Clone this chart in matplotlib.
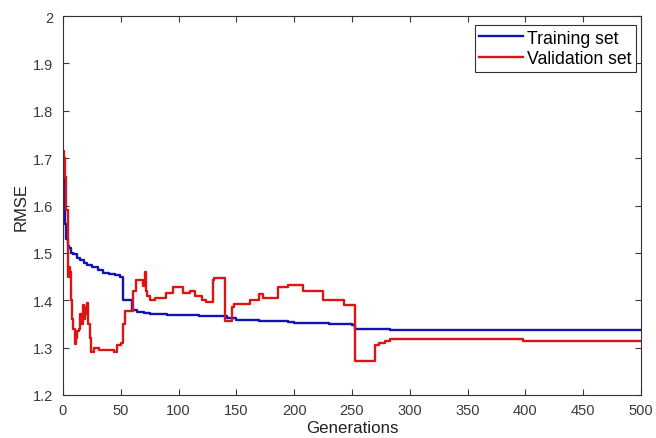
import matplotlib
matplotlib.use("Agg")
import matplotlib.pyplot as plt

# training-set RMSE (step breakpoints)
train_gen = [0, 1, 2, 3, 4, 5, 7, 9, 12, 15, 18, 21, 25, 30, 35, 40, 45, 49,
             52, 60, 64, 70, 75, 90, 118, 130, 142, 150, 170, 195, 200, 230,
             250, 253, 283, 500]
train_rmse = [1.67, 1.62, 1.56, 1.53, 1.515, 1.51, 1.50, 1.497, 1.49, 1.484,
              1.478, 1.474, 1.47, 1.463, 1.458, 1.455, 1.453, 1.45,
              1.40, 1.38, 1.376, 1.373, 1.371, 1.368, 1.367, 1.366, 1.362,
              1.359, 1.357, 1.354, 1.351, 1.349, 1.347, 1.34, 1.338, 1.338]

# validation-set RMSE (step breakpoints)
val_gen = [0, 1, 2, 3, 4, 4.5, 5, 6, 7, 8, 9, 10, 11, 12, 14, 15, 16, 17, 18,
           19, 20, 21, 22, 23, 24, 27, 31, 44, 47, 50, 52, 54, 61, 63, 69, 71,
           72, 73, 75, 80, 89, 95, 104, 110, 114, 120, 124, 130, 131, 140, 146,
           148, 162, 170, 173, 186, 195, 208, 225, 243, 253, 270, 273, 279,
           283, 398, 500]
val_rmse = [1.716, 1.70, 1.66, 1.59, 1.53, 1.45, 1.47, 1.46, 1.40, 1.36, 1.34,
            1.308, 1.32, 1.335, 1.34, 1.37, 1.35, 1.39, 1.36, 1.385, 1.37,
            1.395, 1.35, 1.32, 1.29, 1.30, 1.295, 1.29, 1.305, 1.31, 1.35,
            1.378, 1.42, 1.442, 1.43, 1.46, 1.42, 1.41, 1.40, 1.405, 1.416,
            1.427, 1.415, 1.42, 1.41, 1.40, 1.396, 1.442, 1.446, 1.357, 1.385,
            1.393, 1.40, 1.414, 1.405, 1.427, 1.433, 1.42, 1.40, 1.389, 1.272,
            1.306, 1.31, 1.315, 1.319, 1.313, 1.313]

plt.rcParams["font.family"] = ["Liberation Sans", "DejaVu Sans"]

fig = plt.figure(figsize=(6.56, 4.39), dpi=100)
ax = fig.add_axes([0.096, 0.098, 0.881, 0.863])

ax.plot(train_gen, train_rmse, drawstyle="steps-post", color="#1414b4",
        lw=1.7, label="Training set")
ax.plot(val_gen, val_rmse, drawstyle="steps-post", color="#dc1414",
        lw=1.7, label="Validation set")

ax.set_xlim(0, 500)
ax.set_ylim(1.2, 2.0)
ax.set_xticks(range(0, 501, 50))
ax.set_yticks([1.2, 1.3, 1.4, 1.5, 1.6, 1.7, 1.8, 1.9, 2.0])
ax.set_yticklabels(["1.2", "1.3", "1.4", "1.5", "1.6", "1.7", "1.8", "1.9", "2"])
ax.tick_params(direction="in", top=True, right=True, length=4, width=0.8,
               labelsize=10.5, colors="#3a3a3a")
ax.tick_params(axis="x", pad=6)
ax.tick_params(axis="y", pad=7)
for s in ax.spines.values():
    s.set_linewidth(0.8)
    s.set_color("#333333")

ax.set_xlabel("Generations", fontsize=12.2, labelpad=2, color="#222222")
ax.set_ylabel("RMSE", fontsize=12, labelpad=3, color="#222222")

leg = ax.legend(loc="upper right", bbox_to_anchor=(0.991, 0.976),
                borderaxespad=0, fontsize=12.7, fancybox=False, framealpha=1,
                edgecolor="#333333", handlelength=2.5, handletextpad=0.2,
                borderpad=0.25, labelspacing=0.2)
leg.get_frame().set_linewidth(0.8)

fig.savefig("out.png", dpi=100)
plt.close(fig)
